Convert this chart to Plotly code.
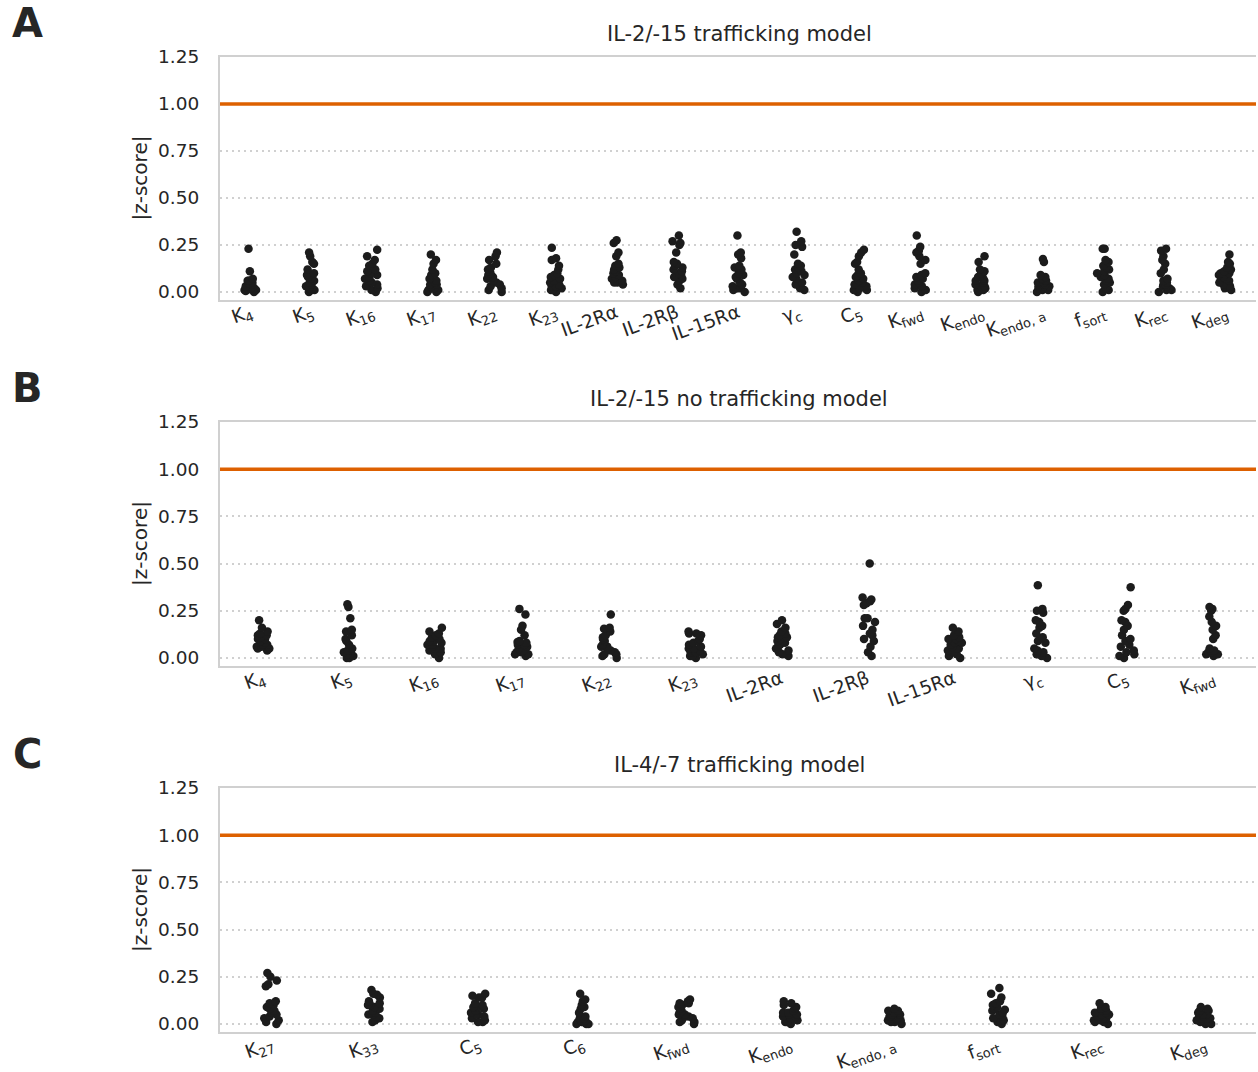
import plotly.graph_objects as go

# ---- panel A: IL-2/-15 trafficking model ----
traf_labels = ["K<sub>4</sub>", "K<sub>5</sub>", "K<sub>16</sub>", "K<sub>17</sub>", "K<sub>22</sub>",
               "K<sub>23</sub>", "IL-2Rα", "IL-2Rβ", "IL-15Rα", "γ<sub>c</sub>", "C<sub>5</sub>",
               "K<sub>fwd</sub>", "K<sub>endo</sub>", "K<sub>endo, a</sub>", "f<sub>sort</sub>",
               "K<sub>rec</sub>", "K<sub>deg</sub>"]
traf_scores = [
    [0.23, 0.11, 0.07, 0.06, 0.05, 0.04, 0.03, 0.03, 0.02, 0.02, 0.01, 0.01, 0.00, 0.005, 0.015, 0.025, 0.045, 0.06],
    [0.21, 0.19, 0.16, 0.15, 0.12, 0.10, 0.09, 0.08, 0.07, 0.06, 0.05, 0.04, 0.03, 0.02, 0.02, 0.01, 0.01, 0.00],
    [0.225, 0.19, 0.17, 0.15, 0.14, 0.12, 0.11, 0.10, 0.09, 0.08, 0.07, 0.06, 0.05, 0.04, 0.03, 0.02, 0.01, 0.00],
    [0.20, 0.17, 0.15, 0.12, 0.10, 0.09, 0.07, 0.06, 0.05, 0.04, 0.04, 0.03, 0.02, 0.02, 0.01, 0.01, 0.00, 0.00],
    [0.21, 0.19, 0.17, 0.15, 0.13, 0.12, 0.11, 0.10, 0.09, 0.08, 0.07, 0.06, 0.05, 0.04, 0.03, 0.02, 0.01, 0.00],
    [0.235, 0.18, 0.17, 0.14, 0.12, 0.10, 0.09, 0.08, 0.07, 0.06, 0.05, 0.04, 0.03, 0.03, 0.02, 0.01, 0.01, 0.00],
    [0.275, 0.26, 0.21, 0.19, 0.15, 0.14, 0.13, 0.12, 0.11, 0.10, 0.09, 0.08, 0.07, 0.07, 0.06, 0.05, 0.05, 0.04],
    [0.30, 0.27, 0.26, 0.25, 0.21, 0.16, 0.15, 0.14, 0.13, 0.12, 0.11, 0.10, 0.09, 0.08, 0.07, 0.06, 0.04, 0.02],
    [0.30, 0.21, 0.20, 0.18, 0.14, 0.13, 0.12, 0.10, 0.09, 0.08, 0.07, 0.05, 0.04, 0.03, 0.02, 0.02, 0.01, 0.00],
    [0.32, 0.27, 0.25, 0.24, 0.20, 0.15, 0.14, 0.13, 0.12, 0.11, 0.10, 0.09, 0.08, 0.07, 0.05, 0.04, 0.02, 0.01],
    [0.225, 0.21, 0.19, 0.16, 0.15, 0.12, 0.10, 0.09, 0.08, 0.07, 0.06, 0.05, 0.04, 0.03, 0.02, 0.01, 0.01, 0.00],
    [0.30, 0.24, 0.22, 0.21, 0.19, 0.17, 0.15, 0.10, 0.09, 0.08, 0.07, 0.06, 0.05, 0.04, 0.03, 0.02, 0.01, 0.00],
    [0.19, 0.16, 0.12, 0.11, 0.10, 0.09, 0.08, 0.07, 0.06, 0.06, 0.05, 0.04, 0.03, 0.03, 0.02, 0.01, 0.01, 0.00],
    [0.175, 0.16, 0.09, 0.08, 0.07, 0.06, 0.06, 0.05, 0.05, 0.04, 0.04, 0.03, 0.03, 0.02, 0.02, 0.01, 0.01, 0.00],
    [0.23, 0.23, 0.17, 0.16, 0.14, 0.13, 0.12, 0.11, 0.10, 0.09, 0.08, 0.07, 0.06, 0.05, 0.04, 0.02, 0.01, 0.00],
    [0.23, 0.22, 0.19, 0.17, 0.15, 0.12, 0.10, 0.07, 0.06, 0.05, 0.04, 0.04, 0.03, 0.03, 0.02, 0.01, 0.01, 0.00],
    [0.20, 0.16, 0.15, 0.13, 0.12, 0.11, 0.10, 0.10, 0.09, 0.08, 0.07, 0.07, 0.06, 0.05, 0.04, 0.03, 0.02, 0.01],
]

# ---- panel B: IL-2/-15 no trafficking model ----
notraf_labels = ["K<sub>4</sub>", "K<sub>5</sub>", "K<sub>16</sub>", "K<sub>17</sub>", "K<sub>22</sub>",
                 "K<sub>23</sub>", "IL-2Rα", "IL-2Rβ", "IL-15Rα", "γ<sub>c</sub>", "C<sub>5</sub>",
                 "K<sub>fwd</sub>"]
notraf_scores = [
    [0.20, 0.16, 0.14, 0.13, 0.12, 0.12, 0.11, 0.10, 0.10, 0.09, 0.08, 0.07, 0.07, 0.06, 0.06, 0.05, 0.05, 0.04],
    [0.285, 0.27, 0.21, 0.15, 0.14, 0.12, 0.10, 0.09, 0.07, 0.05, 0.04, 0.04, 0.03, 0.02, 0.02, 0.01, 0.00, 0.00],
    [0.16, 0.14, 0.13, 0.12, 0.11, 0.10, 0.09, 0.09, 0.08, 0.07, 0.07, 0.06, 0.05, 0.05, 0.04, 0.03, 0.02, 0.00],
    [0.26, 0.23, 0.17, 0.15, 0.12, 0.09, 0.085, 0.08, 0.07, 0.07, 0.06, 0.05, 0.04, 0.03, 0.03, 0.02, 0.02, 0.01],
    [0.23, 0.16, 0.155, 0.14, 0.12, 0.11, 0.10, 0.09, 0.07, 0.06, 0.06, 0.05, 0.04, 0.03, 0.02, 0.02, 0.01, 0.00],
    [0.14, 0.13, 0.13, 0.12, 0.10, 0.09, 0.08, 0.07, 0.06, 0.05, 0.05, 0.04, 0.03, 0.03, 0.02, 0.01, 0.01, 0.00],
    [0.20, 0.18, 0.16, 0.14, 0.13, 0.12, 0.11, 0.11, 0.10, 0.09, 0.08, 0.07, 0.06, 0.05, 0.04, 0.03, 0.02, 0.01],
    [0.50, 0.32, 0.31, 0.30, 0.29, 0.28, 0.21, 0.21, 0.19, 0.17, 0.15, 0.13, 0.12, 0.10, 0.09, 0.06, 0.03, 0.01],
    [0.16, 0.14, 0.12, 0.11, 0.10, 0.10, 0.09, 0.08, 0.08, 0.07, 0.06, 0.05, 0.05, 0.04, 0.03, 0.02, 0.01, 0.00],
    [0.385, 0.26, 0.25, 0.24, 0.20, 0.19, 0.17, 0.16, 0.13, 0.11, 0.09, 0.08, 0.05, 0.04, 0.03, 0.02, 0.01, 0.00],
    [0.375, 0.28, 0.26, 0.25, 0.20, 0.19, 0.17, 0.15, 0.12, 0.10, 0.09, 0.07, 0.06, 0.04, 0.03, 0.02, 0.01, 0.00],
    [0.27, 0.26, 0.25, 0.22, 0.19, 0.17, 0.15, 0.12, 0.10, 0.05, 0.04, 0.04, 0.03, 0.03, 0.03, 0.02, 0.02, 0.01],
]

# ---- panel C: IL-4/-7 trafficking model ----
il47_labels = ["K<sub>27</sub>", "K<sub>33</sub>", "C<sub>5</sub>", "C<sub>6</sub>", "K<sub>fwd</sub>",
               "K<sub>endo</sub>", "K<sub>endo, a</sub>", "f<sub>sort</sub>", "K<sub>rec</sub>", "K<sub>deg</sub>"]
il47_scores = [
    [0.27, 0.25, 0.23, 0.21, 0.20, 0.12, 0.11, 0.10, 0.09, 0.08, 0.07, 0.06, 0.05, 0.04, 0.03, 0.02, 0.01, 0.00],
    [0.18, 0.16, 0.155, 0.14, 0.12, 0.11, 0.10, 0.10, 0.09, 0.08, 0.07, 0.06, 0.05, 0.05, 0.04, 0.03, 0.02, 0.01],
    [0.16, 0.15, 0.14, 0.14, 0.11, 0.10, 0.09, 0.09, 0.08, 0.07, 0.06, 0.05, 0.05, 0.04, 0.03, 0.02, 0.01, 0.01],
    [0.16, 0.13, 0.12, 0.10, 0.09, 0.08, 0.06, 0.04, 0.03, 0.03, 0.02, 0.02, 0.01, 0.01, 0.01, 0.00, 0.00, 0.00],
    [0.13, 0.12, 0.11, 0.11, 0.10, 0.09, 0.08, 0.07, 0.06, 0.05, 0.05, 0.04, 0.04, 0.03, 0.02, 0.01, 0.01, 0.00],
    [0.12, 0.11, 0.10, 0.09, 0.08, 0.07, 0.06, 0.06, 0.05, 0.05, 0.04, 0.04, 0.03, 0.03, 0.02, 0.01, 0.01, 0.00],
    [0.08, 0.07, 0.07, 0.06, 0.06, 0.05, 0.05, 0.04, 0.04, 0.04, 0.03, 0.03, 0.02, 0.02, 0.02, 0.01, 0.01, 0.00],
    [0.19, 0.16, 0.14, 0.12, 0.11, 0.10, 0.09, 0.08, 0.075, 0.07, 0.06, 0.05, 0.04, 0.03, 0.02, 0.02, 0.01, 0.00],
    [0.11, 0.09, 0.08, 0.07, 0.07, 0.06, 0.06, 0.05, 0.05, 0.04, 0.04, 0.03, 0.03, 0.02, 0.02, 0.01, 0.01, 0.00],
    [0.09, 0.08, 0.07, 0.07, 0.06, 0.05, 0.05, 0.04, 0.04, 0.03, 0.03, 0.03, 0.02, 0.02, 0.01, 0.01, 0.00, 0.00],
]

panel_titles = ["IL-2/-15 trafficking model", "IL-2/-15 no trafficking model", "IL-4/-7 trafficking model"]
panel_letters = ["A", "B", "C"]
y_ticks = [0.0, 0.25, 0.5, 0.75, 1.0, 1.25]
threshold = 1.0

W, H = 1258, 1072
FONT = "DejaVu Sans"
TXT = "#262626"
GRID = "#d0d0d0"
ORANGE = "#dd6000"
DOT = "#1c1c1c"

# axes boxes in pixels (left, right, top, bottom)
x_left, x_right = 220, 1256
boxes = [(57, 300), (422, 666), (788, 1032)]
jitters = [0.5, 0.4, 0.35]

panels = [(traf_labels, traf_scores), (notraf_labels, notraf_scores), (il47_labels, il47_scores)]

fig = go.Figure()
layout = dict(
    width=W, height=H, margin=dict(l=0, r=0, t=0, b=0, pad=0, autoexpand=False),
    paper_bgcolor="white", plot_bgcolor="white",
    font=dict(family=FONT, color=TXT, size=18),
    showlegend=False, annotations=[], shapes=[],
)

for i, ((labels, scores), (top, bot)) in enumerate(zip(panels, boxes)):
    ax = "" if i == 0 else str(i + 1)
    xs, ys = [], []
    for lab, vals in zip(labels, scores):
        xs += [lab] * len(vals)
        ys += vals
    fig.add_trace(go.Box(
        x=xs, y=ys, xaxis="x" + ax, yaxis="y" + ax,
        boxpoints="all", jitter=jitters[i], pointpos=0,
        fillcolor="rgba(0,0,0,0)", line=dict(color="rgba(0,0,0,0)", width=0),
        whiskerwidth=0, marker=dict(size=8.5, color=DOT, line=dict(width=0)),
        hoveron="points",
    ))
    ydom = [1 - bot / H, 1 - top / H]
    layout["xaxis" + ax] = dict(
        domain=[x_left / W, x_right / W], anchor="y" + ax, automargin=False,
        type="category", categoryorder="array", categoryarray=labels,
        range=[-0.5, len(labels) - 0.5],
        showline=True, linecolor=GRID, linewidth=2, mirror=True,
        showgrid=False, zeroline=False, ticks="", ticklen=0, tickangle=-20,
        tickfont=dict(family=FONT, size=18.5, color=TXT), ticklabelstandoff=-7,
    )
    layout["yaxis" + ax] = dict(
        domain=ydom, anchor="x" + ax, automargin=False,
        range=[-0.0426, 1.25], tickvals=y_ticks, tickformat=".2f",
        showline=True, linecolor=GRID, linewidth=2, mirror=False,
        showgrid=True, gridcolor=GRID, gridwidth=2, griddash="2px,4px",
        zeroline=False, ticks="", ticklen=0, ticklabelstandoff=15,
        tickfont=dict(family=FONT, size=18.5, color=TXT),
    )
    # reference line at |z| = 1
    layout["shapes"].append(dict(
        type="line", xref="x" + ax + " domain", yref="y" + ax,
        x0=0, x1=1, y0=threshold, y1=threshold,
        line=dict(color=ORANGE, width=3.5),
    ))
    # panel title
    layout["annotations"].append(dict(
        text=panel_titles[i], xref="paper", yref="paper",
        x=(x_left + 1258) / 2 / W, y=1 - (top - 23) / H,
        xanchor="center", yanchor="middle", showarrow=False,
        font=dict(family=FONT, size=21, color=TXT),
    ))
    # y axis title
    layout["annotations"].append(dict(
        text="|z-score|", xref="paper", yref="paper",
        x=140 / W, y=1 - (top + bot) / 2 / H, textangle=-90,
        xanchor="center", yanchor="middle", showarrow=False,
        font=dict(family=FONT, size=20, color=TXT),
    ))
    # panel letter
    layout["annotations"].append(dict(
        text="<b>" + panel_letters[i] + "</b>", xref="paper", yref="paper",
        x=27 / W, y=1 - (top - 34) / H,
        xanchor="center", yanchor="middle", showarrow=False,
        font=dict(family=FONT, size=40, color=TXT),
    ))

fig.update_layout(**layout)
fig.write_html("out.html")
